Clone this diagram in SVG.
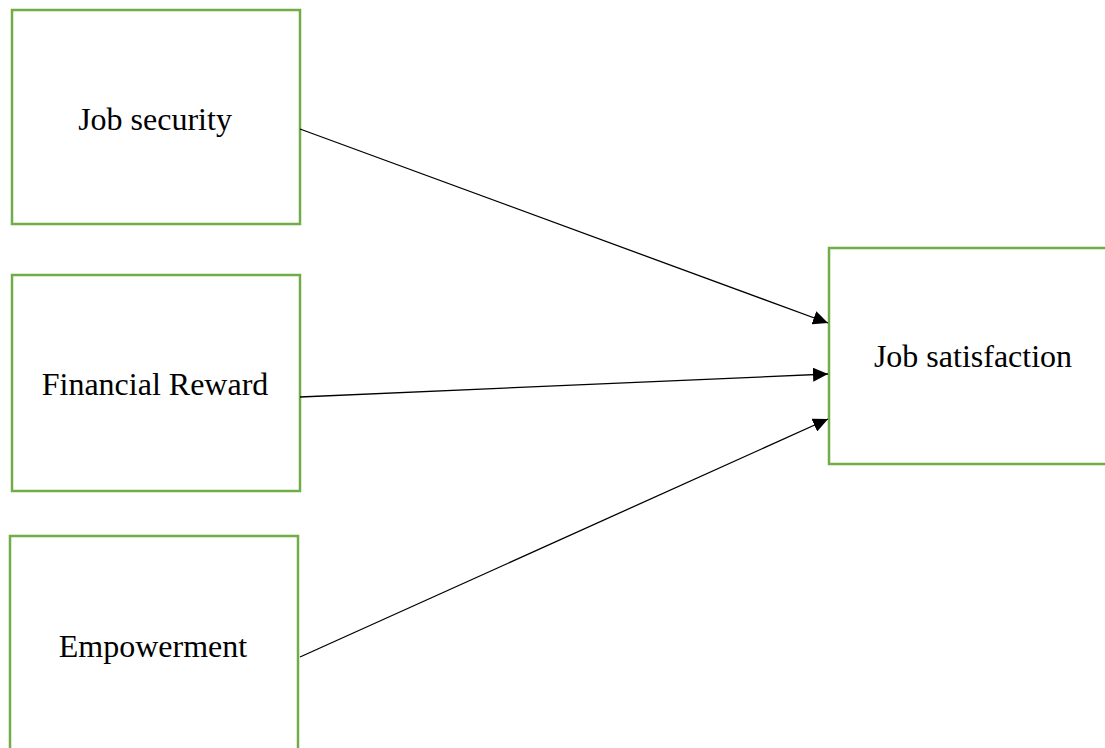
<svg xmlns="http://www.w3.org/2000/svg" width="1105" height="748" viewBox="0 0 1105 748">
<style>
.box{fill:#fff;stroke:#70AD47;stroke-width:2.5}
.lbl{font-family:"Liberation Serif","Times New Roman",serif;font-size:32px;fill:#000;text-anchor:middle}
.conn{stroke:#000;stroke-width:1.3;fill:none;marker-end:url(#ah)}
</style>
<defs>
<marker id="ah" markerWidth="15" markerHeight="14" refX="15" refY="7" orient="auto" markerUnits="userSpaceOnUse">
<path d="M0,0 L15,7 L0,14 Z" fill="#000"/>
</marker>
</defs>
<rect width="1105" height="748" fill="#fff"/>
<g id="job-security">
<rect class="box" x="12" y="10" width="288" height="214"/>
<text class="lbl" x="155" y="130">Job security</text>
</g>
<g id="financial-reward">
<rect class="box" x="12" y="275" width="288" height="216"/>
<text class="lbl" x="155" y="395">Financial Reward</text>
</g>
<g id="empowerment">
<rect class="box" x="10" y="536" width="288" height="230"/>
<text class="lbl" x="153" y="657">Empowerment</text>
</g>
<g id="job-satisfaction">
<rect class="box" x="829" y="248" width="290" height="216"/>
<text class="lbl" x="973" y="367">Job satisfaction</text>
</g>
<g id="connectors">
<line class="conn" x1="300" y1="129" x2="828" y2="323"/>
<line class="conn" x1="300" y1="397" x2="828" y2="374"/>
<line class="conn" x1="300" y1="657" x2="828" y2="419"/>
</g>
</svg>
